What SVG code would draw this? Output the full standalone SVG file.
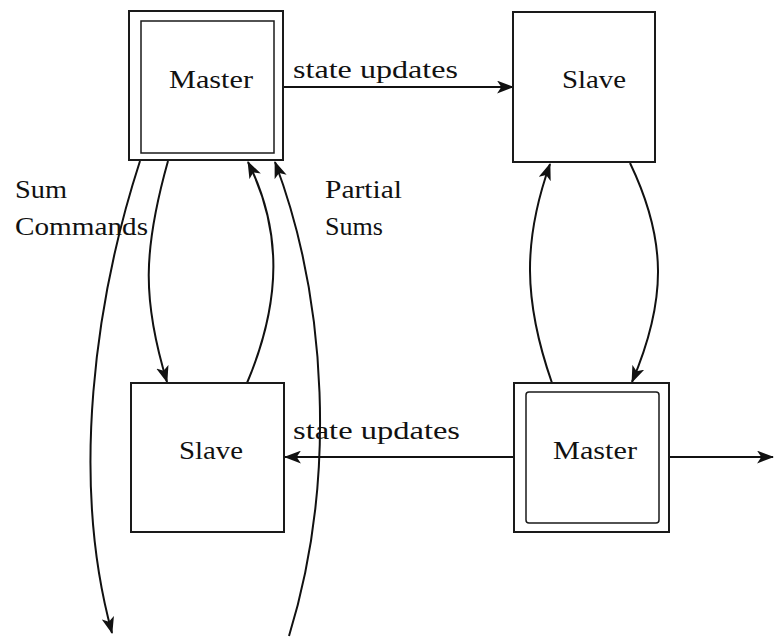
<svg xmlns="http://www.w3.org/2000/svg" width="774" height="644" viewBox="0 0 774 644">
  <style>
    .box { fill: #ffffff; stroke: #1a1a1a; stroke-width: 2; }
    .inner { fill: none; stroke: #1a1a1a; stroke-width: 1.5; }
    .lbl { font-family: "Liberation Serif", "DejaVu Serif", serif; font-size: 26px; fill: #111111; }
    .conn { fill: none; stroke: #111111; stroke-width: 2; }
  </style>
  <defs>
    <marker id="head" viewBox="0 0 16 12" refX="15" refY="6" markerWidth="17" markerHeight="13" markerUnits="userSpaceOnUse" orient="auto">
      <path d="M0,0 L16,6 L0,12 L4,6 Z" fill="#111111"/>
    </marker>
    <linearGradient id="shade" x1="0" y1="0" x2="1" y2="0">
      <stop offset="0" stop-color="#e6e6e6"/>
      <stop offset="0.12" stop-color="#ffffff"/>
      <stop offset="1" stop-color="#ffffff"/>
    </linearGradient>
  </defs>

  <rect width="774" height="644" fill="#ffffff"/>

  <!-- connectors -->
  <g id="connectors">
    <!-- state updates, top -->
    <line class="conn" x1="284" y1="87" x2="513" y2="87" marker-end="url(#head)"/>
    <!-- state updates, bottom -->
    <line class="conn" x1="514" y1="457" x2="285" y2="457" marker-end="url(#head)"/>
    <!-- outgoing from lower master -->
    <line class="conn" x1="669" y1="457" x2="773" y2="457" marker-end="url(#head)"/>
    <!-- sum commands, long -->
    <path class="conn" d="M140,161 C95,300 70,480 112,633" marker-end="url(#head)"/>
    <!-- master to lower slave -->
    <path class="conn" d="M168,161 C143,250 142,300 167,382" marker-end="url(#head)"/>
    <!-- lower slave to master -->
    <path class="conn" d="M247,383 C282,300 282,230 248,162" marker-end="url(#head)"/>
    <!-- partial sums, long -->
    <path class="conn" d="M289,636 C337,480 327,300 275,162" marker-end="url(#head)"/>
    <!-- lower master to upper slave -->
    <path class="conn" d="M552,383 C523,300 523,240 550,164" marker-end="url(#head)"/>
    <!-- upper slave to lower master -->
    <path class="conn" d="M630,163 C667,240 667,300 632,382" marker-end="url(#head)"/>
  </g>

  <g id="master-top">
    <rect class="box" x="129" y="11" width="154" height="149"/>
    <rect class="inner" x="141" y="21" width="133" height="132"/>
    <text class="lbl" x="169" y="88" textLength="84" lengthAdjust="spacingAndGlyphs">Master</text>
  </g>

  <g id="slave-top">
    <rect class="box" x="513" y="12" width="142" height="150"/>
    <text class="lbl" x="562" y="88" textLength="64" lengthAdjust="spacingAndGlyphs">Slave</text>
  </g>

  <g id="slave-bottom">
    <rect class="box" x="131" y="383" width="153" height="149"/>
    <text class="lbl" x="179" y="459" textLength="64" lengthAdjust="spacingAndGlyphs">Slave</text>
  </g>

  <g id="master-bottom">
    <rect class="box" x="514" y="383" width="155" height="149"/>
    <rect class="inner" x="526" y="392" width="133" height="131" rx="3" fill="url(#shade)"/>
    <text class="lbl" x="553" y="459" textLength="84" lengthAdjust="spacingAndGlyphs">Master</text>
  </g>

  <g id="labels">
    <text class="lbl" x="293" y="78" textLength="165" lengthAdjust="spacingAndGlyphs">state updates</text>
    <text class="lbl" x="293" y="439" textLength="167" lengthAdjust="spacingAndGlyphs">state updates</text>
    <text class="lbl" x="15" y="198" textLength="52" lengthAdjust="spacingAndGlyphs">Sum</text>
    <text class="lbl" x="15" y="235" textLength="133" lengthAdjust="spacingAndGlyphs">Commands</text>
    <text class="lbl" x="325" y="198" textLength="77" lengthAdjust="spacingAndGlyphs">Partial</text>
    <text class="lbl" x="325" y="235" textLength="58" lengthAdjust="spacingAndGlyphs">Sums</text>
  </g>
</svg>
